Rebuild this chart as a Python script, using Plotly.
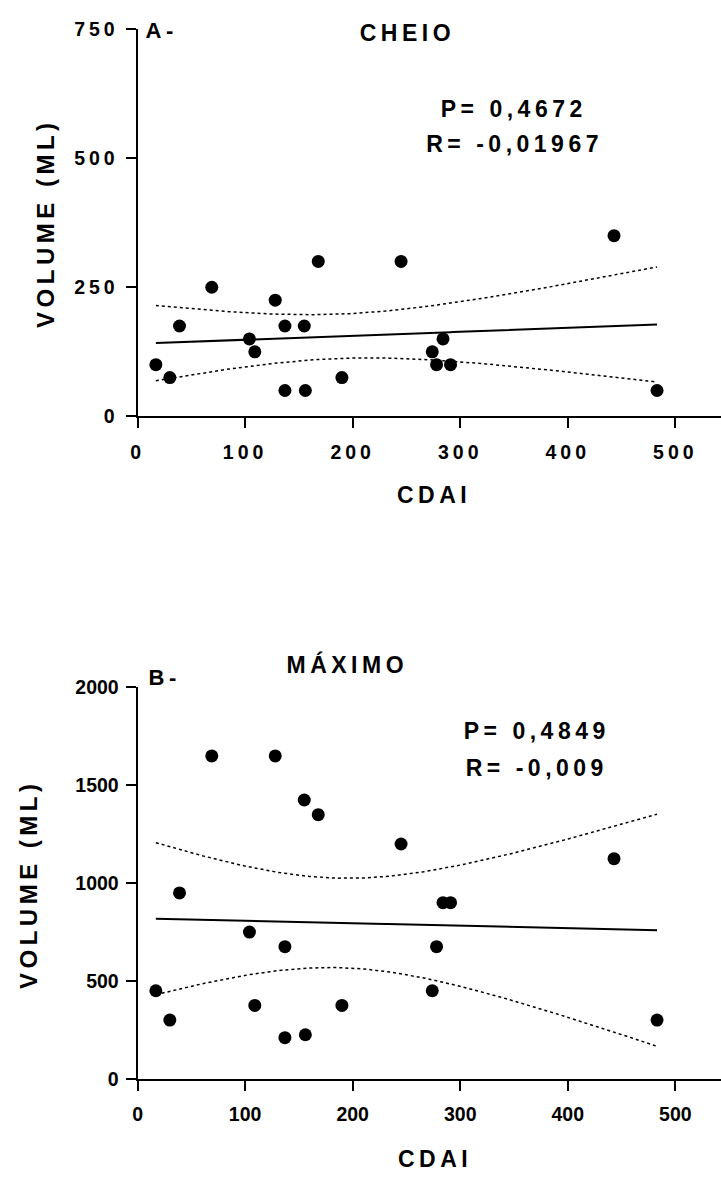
import numpy as np
import plotly.graph_objects as go

# ---------------- data ----------------
cdai = [17, 30, 39, 69, 104, 109, 128, 137, 137, 155, 156, 168, 190, 245, 274, 278, 284, 291, 443, 483]
vol_cheio = [100, 75, 175, 250, 150, 125, 225, 175, 50, 175, 50, 300, 75, 300, 125, 100, 150, 100, 350, 50]
vol_maximo = [450, 300, 950, 1650, 750, 375, 1650, 675, 210, 1425, 225, 1350, 375, 1200, 450, 675, 900, 900, 1125, 300]

x_ticks = [0, 100, 200, 300, 400, 500]
y_ticks_a = [0, 250, 500, 750]
y_ticks_b = [0, 500, 1000, 1500, 2000]

stats_a = ["P= 0,4672", "R= -0,01967"]
stats_b = ["P= 0,4849", "R= -0,009"]

T_975_DF18 = 2.101  # t quantile for 95% CI, n-2 = 18 d.f.


def fit_with_band(x, y):
    x = np.asarray(x, float)
    y = np.asarray(y, float)
    n = len(x)
    b, a = np.polyfit(x, y, 1)
    resid = y - (a + b * x)
    s = np.sqrt(np.sum(resid ** 2) / (n - 2))
    sxx = np.sum((x - x.mean()) ** 2)
    xg = np.linspace(x.min(), x.max(), 200)
    yg = a + b * xg
    half = T_975_DF18 * s * np.sqrt(1.0 / n + (xg - x.mean()) ** 2 / sxx)
    return xg, yg, yg - half, yg + half


W, H = 721, 1183
FONT = "Liberation Sans, Arial, Helvetica, sans-serif"


def px(xp):
    return xp / W


def py(yp):
    return 1 - yp / H


fig = go.Figure()

for vol, xa, ya in [(vol_cheio, "x", "y"), (vol_maximo, "x2", "y2")]:
    xg, yg, lo, hi = fit_with_band(cdai, vol)
    for band in (lo, hi):
        fig.add_trace(go.Scatter(x=xg, y=band, mode="lines", xaxis=xa, yaxis=ya,
                                 line=dict(color="black", width=1.5, dash="dot"),
                                 showlegend=False, hoverinfo="skip"))
    fig.add_trace(go.Scatter(x=xg, y=yg, mode="lines", xaxis=xa, yaxis=ya,
                             line=dict(color="black", width=2), showlegend=False))
    fig.add_trace(go.Scatter(x=cdai, y=vol, mode="markers", xaxis=xa, yaxis=ya,
                             marker=dict(color="black", size=13), showlegend=False))

axis_common = dict(showline=True, linecolor="black", linewidth=2, ticks="outside",
                   ticklen=10, tickwidth=2, tickcolor="black", showgrid=False,
                   zeroline=False, tickfont=dict(family=FONT, size=19.5, color="black", weight="bold"))

x_dom = [133.5 / W, 1.0]
x_rng = [0, (W - 133.5) / 1.083]

fig.update_layout(
    width=W, height=H, margin=dict(l=0, r=0, t=0, b=0),
    paper_bgcolor="white", plot_bgcolor="white", showlegend=False,
    xaxis=dict(domain=x_dom, range=x_rng, tickvals=x_ticks, anchor="y",
               ticklabelstandoff=7, **axis_common),
    yaxis=dict(domain=[py(413), py(18.5)], range=[0, 750], tickvals=y_ticks_a,
               anchor="x", ticklabelstandoff=3, **axis_common),
    xaxis2=dict(domain=x_dom, range=x_rng, tickvals=x_ticks, anchor="y2",
                ticklabelstandoff=7, **axis_common),
    yaxis2=dict(domain=[py(1088), py(689.3)], range=[0, 2000], tickvals=y_ticks_b,
                anchor="x2", ticklabelstandoff=3, **axis_common),
)


def ann(text, x, y, size, angle=0):
    fig.add_annotation(text=text, x=px(x), y=py(y), xref="paper", yref="paper",
                       xanchor="center", yanchor="middle", showarrow=False, textangle=angle,
                       font=dict(family=FONT, size=size, color="black", weight="bold"))


ann("CHEIO", 405.5, 22.5, 23)
ann("A-", 158, 19.5, 22)
ann(stats_a[0], 512.5, 100, 23)
ann(stats_a[1], 513.5, 136, 23)
ann("CDAI", 432, 493, 23)
ann("VOLUME (ML)", 41, 216.5, 24, -90)

ann("MÁXIMO", 345, 666, 23)
ann("B-", 161, 679.5, 22)
ann(stats_b[0], 535.5, 733.5, 23)
ann(stats_b[1], 535.5, 771.5, 23)
ann("CDAI", 433, 1170, 23)
ann("VOLUME (ML)", 24, 890, 24, -90)

post = """
document.querySelectorAll('.xtick text, .ytick text').forEach(function(t){ t.style.letterSpacing='4px'; });
document.querySelectorAll('.annotation-text').forEach(function(t){ t.style.letterSpacing='4.5px'; });
"""
fig.write_html("out.html", post_script=post)
